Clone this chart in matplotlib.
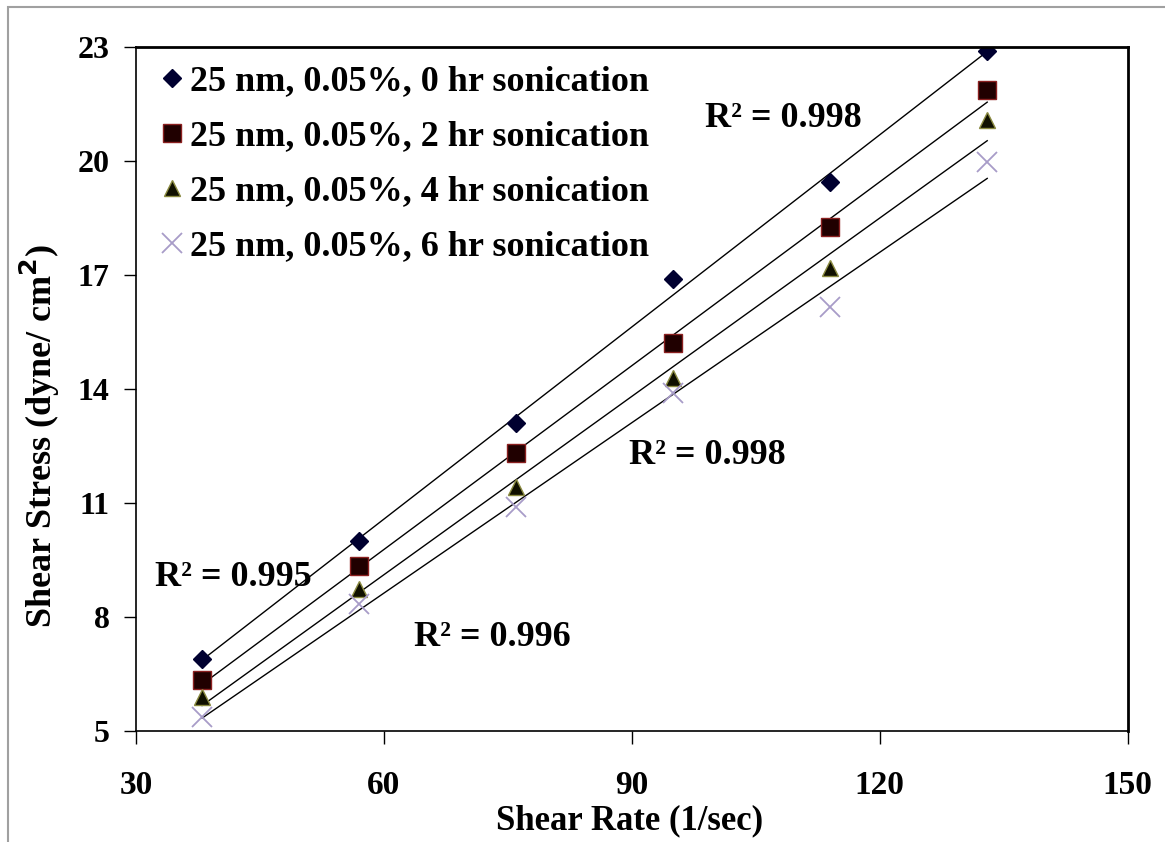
import numpy as np
import matplotlib.pyplot as plt
from matplotlib.patches import Rectangle

# shear rate (1/sec) and shear stress (dyne/cm^2) per sonication time
shear_rate = [38, 57, 76, 95, 114, 133]
stress_0hr = [6.9, 10.0, 13.1, 16.9, 19.45, 22.9]
stress_2hr = [6.34, 9.34, 12.32, 15.2, 18.26, 21.87]
stress_4hr = [5.9, 8.74, 11.42, 14.29, 17.18, 21.08]
stress_6hr = [5.37, 8.34, 10.9, 13.9, 16.16, 19.97]

labels = ["25 nm, 0.05%, 0 hr sonication",
          "25 nm, 0.05%, 2 hr sonication",
          "25 nm, 0.05%, 4 hr sonication",
          "25 nm, 0.05%, 6 hr sonication"]
r2_text = ["R\u00b2 = 0.998", "R\u00b2 = 0.998", "R\u00b2 = 0.995", "R\u00b2 = 0.996"]
r2_pos = [(98.8, 21.13), (89.7, 12.26), (32.3, 9.03), (63.7, 7.47)]

plt.rcParams['font.family'] = ['Liberation Serif', 'DejaVu Serif']
plt.rcParams['font.weight'] = 'bold'

fig = plt.figure(figsize=(11.65, 8.42), dpi=100)
ax = fig.add_axes([0.1167, 0.132, 0.8513, 0.812])

# light frame around the whole chart area
fig.patches.append(Rectangle((8 / 1165, -0.05), 1.1, 1 - 7 / 842 + 0.05,
                             transform=fig.transFigure, fill=False,
                             edgecolor="#a0a0a0", linewidth=1.5))

styles = [
    dict(marker="D", markersize=9, color="#000030", markeredgecolor="#000030"),
    dict(marker="s", markersize=13, color="#200000", markeredgecolor="#8b2020"),
    dict(marker="^", markersize=11, color="#101000", markeredgecolor="#8a8a40"),
    dict(marker="x", markersize=14, color="#a89cc8", markeredgewidth=1.3),
]

series = [stress_0hr, stress_2hr, stress_4hr, stress_6hr]
x = np.array(shear_rate)
for ys, st, lab in zip(series, styles, labels):
    ax.plot(x, ys, linestyle="none", label=lab, **st)
    # linear trend line over the data range
    k, b = np.polyfit(x, ys, 1)
    ax.plot([x[0], x[-1]], [k * x[0] + b, k * x[-1] + b], color="black",
            linewidth=1.0, zorder=1)

for txt, (tx, ty) in zip(r2_text, r2_pos):
    ax.text(tx, ty, txt, fontsize=26, fontweight="bold", va="center")

ax.set_xlim(30, 150)
ax.set_ylim(5, 23)
ax.set_xticks([30, 60, 90, 120, 150])
ax.set_yticks([5, 8, 11, 14, 17, 20, 23])
ax.tick_params(direction="out", length=9, width=1, labelsize=23, pad=10)
ax.tick_params(axis="x", pad=19, labelsize=24)
for sp in ax.spines.values():
    sp.set_linewidth(1.2)
ax.spines["right"].set_linewidth(2)
ax.spines["top"].set_linewidth(2)

ax.set_xlabel("Shear Rate (1/sec)", fontsize=25, fontweight="bold")
ax.set_ylabel("Shear Stress (dyne/ cm$^\\mathbf{2}$)", fontsize=26,
              fontweight="bold")
ax.xaxis.set_label_coords(0.498, -0.108)
ax.yaxis.set_label_coords(-0.075, 0.431)

ax.legend(loc="upper left", frameon=False, handletextpad=0.0,
          handlelength=1.0, labelspacing=0.6, borderaxespad=0.1,
          borderpad=0.4, prop=dict(weight="bold", size=26))

fig.savefig("out.png", dpi=100)
